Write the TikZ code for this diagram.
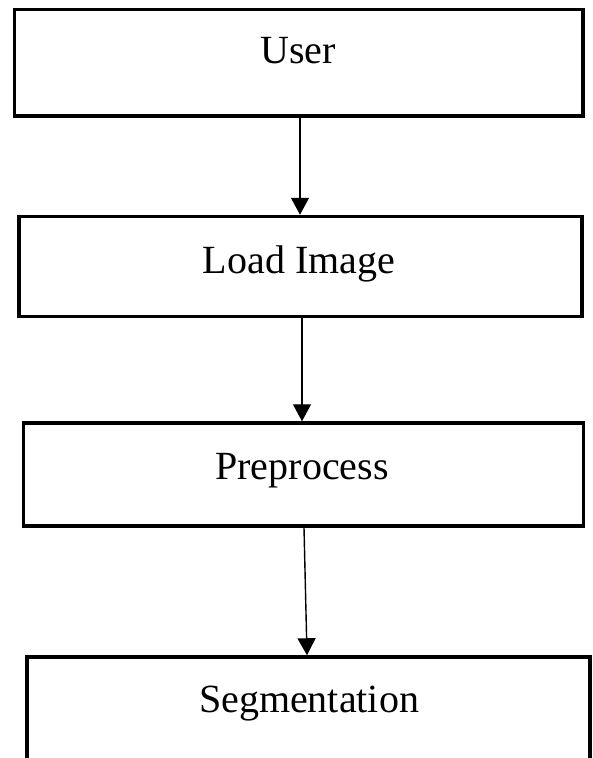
\documentclass[tikz,border=0pt]{standalone}
\usepackage{fontspec}
\setmainfont{Liberation Serif}
\usetikzlibrary{arrows.meta}
\begin{document}
\begin{tikzpicture}[x=1pt,y=-1pt,
  box/.style={draw=black,line width=3.5pt,fill=white,inner sep=0pt},
  lbl/.style={anchor=base,inner sep=0pt,font=\fontsize{40}{45}\selectfont},
  conn/.style={draw=black,line width=1.4pt,-{Triangle[width=18pt,length=17pt]}}]
\useasboundingbox (0,0) rectangle (592,758);
\clip (0,0) rectangle (592,758);
\fill[white] (0,0) rectangle (592,758);
\node[box,minimum width=568.5pt,minimum height=106.5pt] (b1) at (298.75,62.75) {};
\node[box,minimum width=563pt,minimum height=100pt] (b2) at (300.5,266.5) {};
\node[box,minimum width=560pt,minimum height=103pt] (b3) at (303.5,474.5) {};
\node[box,minimum width=563pt,minimum height=143pt] (b4) at (308.5,728.5) {};
\node[lbl] (t1) at (298,63) {User};
\node[lbl] (t2) at (299,273) {Load Image};
\node[lbl] (t3) at (302,479) {Preprocess};
\node[lbl] (t4) at (309,712) {Segmentation};
\draw[conn] ([xshift=1.25pt]b1.south) -- ([xshift=-0.5pt]b2.north);
\draw[conn] ([xshift=1.5pt]b2.south) -- ([xshift=-1.5pt]b3.north);
\draw[conn] ([xshift=0.5pt]b3.south) -- ([xshift=-1.5pt]b4.north);
\end{tikzpicture}
\end{document}
